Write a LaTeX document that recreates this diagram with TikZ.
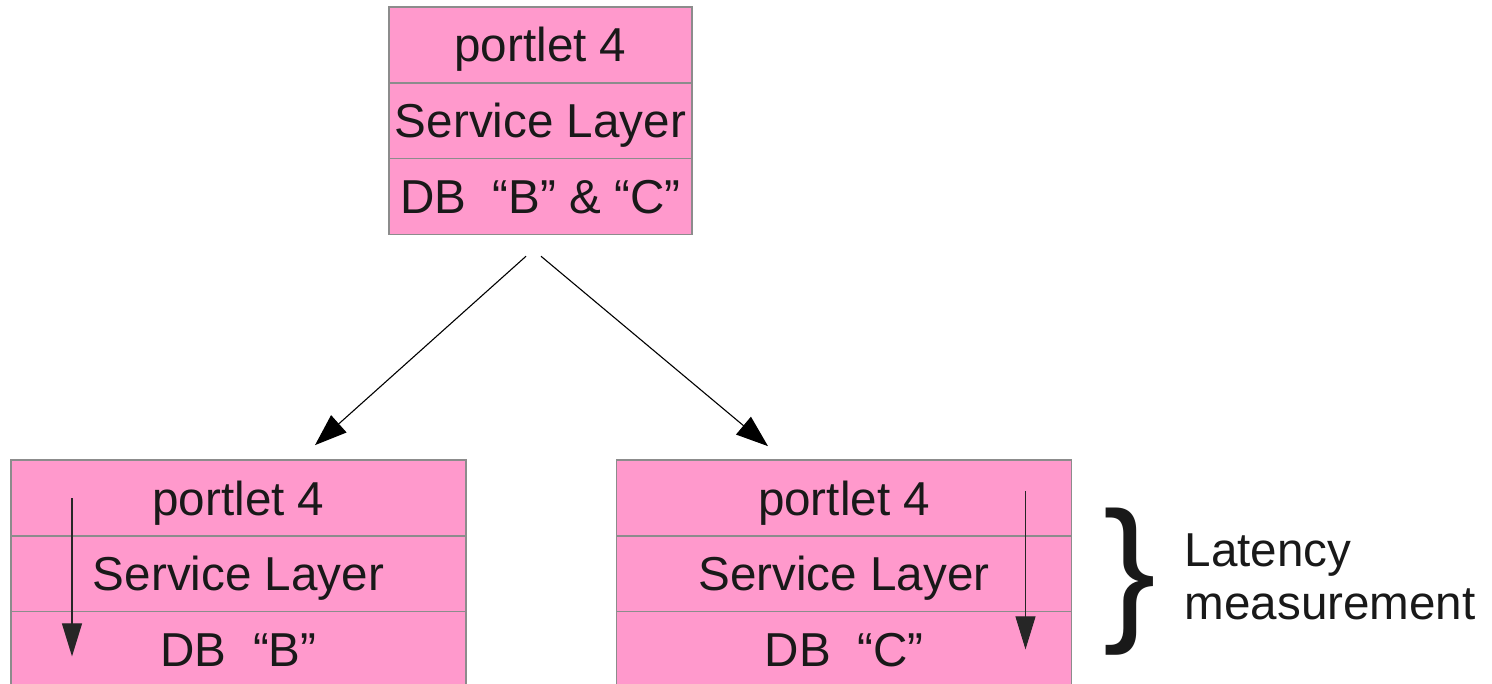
\documentclass[tikz,border=0pt]{standalone}
\usepackage{fontspec}
\setmainfont{Liberation Sans}
\usepackage{tikz}
\usetikzlibrary{positioning, arrows.meta}

\definecolor{layerpink}{HTML}{FF99CC}
\definecolor{layerline}{HTML}{8C8C8C}

\begin{document}
\begin{tikzpicture}[
						x=1pt, y=-1pt, % one unit per pixel
						every node/.style={font=\fontsize{47.6pt}{53pt}\selectfont, text=black!90},
						layer/.style={draw=layerline, fill=layerpink, line width=1.4pt, outer sep=0pt,
								inner sep=0pt, minimum width=303pt, minimum height=75.7pt,
								text height=34pt, text depth=0pt},
						widelayer/.style={layer, minimum width=455pt},
						call/.style={draw, line width=1.1pt, -{Triangle[length=32pt,width=23pt]}},
						flow/.style={draw=black!85, line width=1.1pt, -{Triangle[length=33pt,width=20pt]}}
				]
    \useasboundingbox (0,0) rectangle (1492,684);

    % Caller
    \node[layer] (top1) at (540.5,45) {portlet 4};
    \node[layer, below=0pt of top1] (top2) {Service Layer};
    \node[layer, below=0pt of top2] (top3) {DB\ \ “B” \& “C”};

    % Shard B
    \node[widelayer] (left1) at (238.5,498) {portlet 4};
    \node[widelayer, below=0pt of left1] (left2) {Service Layer};
    \node[widelayer, below=0pt of left2] (left3) {DB\ \ “B”};

    % Shard C
    \node[widelayer] (right1) at (844,498) {portlet 4};
    \node[widelayer, below=0pt of right1] (right2) {Service Layer};
    \node[widelayer, below=0pt of right2] (right3) {DB\ \ “C”};

    \node[inner sep=0pt] (brace) at (1130,582) {\fontsize{158pt}{158pt}\selectfont \}};
    \node[anchor=north west, inner sep=0pt, align=left] (latency) at (1184.5,534) {Latency\\measurement};

    % Add arrows
    \draw[call] ([xshift=-14.5pt, yshift=-22pt]top3.south) -- ([xshift=76.5pt, yshift=15pt]left1.north);
    \draw[call] ([xshift=0.5pt, yshift=-22pt]top3.south) -- ([xshift=-76pt, yshift=14pt]right1.north);
    \draw[flow] ([xshift=61pt]left1.west) -- ([xshift=61pt, yshift=-7pt]left3.west);
    \draw[flow] ([xshift=-46pt, yshift=7pt]right1.east) -- ([xshift=-46pt]right3.east);

  \end{tikzpicture}
\end{document}
